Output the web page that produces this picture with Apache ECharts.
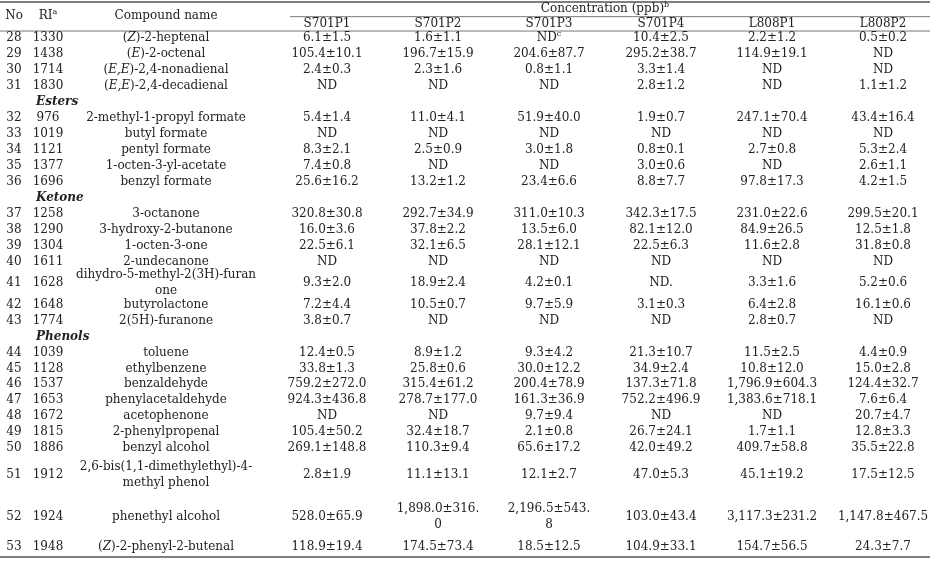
<!DOCTYPE html>
<html>
<head>
<meta charset="utf-8">
<script src="https://cdn.jsdelivr.net/npm/echarts@6/dist/echarts.min.js"></script>
<style>
html, body { margin: 0; padding: 0; background: #fff; }
#chart { width: 930px; height: 564px; }
</style>
</head>
<body>
<div id="chart"></div>
<script>
// table data
var nos = [28, 29, 30, 31, 32, 33, 34, 35, 36, 37, 38, 39, 40, 41, 42, 43, 44, 45, 46, 47, 48, 49, 50, 51, 52, 53];
var ris = ['1330', '1438', '1714', '1830', '976', '1019', '1121', '1377', '1696', '1258', '1290', '1304', '1611',
    '1628', '1648', '1774', '1039', '1128', '1537', '1653', '1672', '1815', '1886', '1912', '1924', '1948'];
var names = ['({i|Z})-2-heptenal', '({i|E})-2-octenal', '({i|E,E})-2,4-nonadienal', '({i|E,E})-2,4-decadienal',
    '2-methyl-1-propyl formate', 'butyl formate', 'pentyl formate', '1-octen-3-yl-acetate', 'benzyl formate',
    '3-octanone', '3-hydroxy-2-butanone', '1-octen-3-one', '2-undecanone', 'dihydro-5-methyl-2(3H)-furan\none',
    'butyrolactone', '2(5H)-furanone', 'toluene', 'ethylbenzene', 'benzaldehyde', 'phenylacetaldehyde',
    'acetophenone', '2-phenylpropenal', 'benzyl alcohol', '2,6-bis(1,1-dimethylethyl)-4-\nmethyl phenol',
    'phenethyl alcohol', '({i|Z})-2-phenyl-2-butenal'];
var sectionNames = ['Esters', 'Ketone', 'Phenols'];
var sectionBefore = [32, 37, 44];
var sampleNames = ['S701P1', 'S701P2', 'S701P3', 'S701P4', 'L808P1', 'L808P2'];

var s701p1 = ['6.1±1.5', '105.4±10.1', '2.4±0.3', 'ND', '5.4±1.4', 'ND', '8.3±2.1', '7.4±0.8', '25.6±16.2',
    '320.8±30.8', '16.0±3.6', '22.5±6.1', 'ND', '9.3±2.0', '7.2±4.4', '3.8±0.7', '12.4±0.5', '33.8±1.3',
    '759.2±272.0', '924.3±436.8', 'ND', '105.4±50.2', '269.1±148.8', '2.8±1.9', '528.0±65.9', '118.9±19.4'];
var s701p2 = ['1.6±1.1', '196.7±15.9', '2.3±1.6', 'ND', '11.0±4.1', 'ND', '2.5±0.9', 'ND', '13.2±1.2',
    '292.7±34.9', '37.8±2.2', '32.1±6.5', 'ND', '18.9±2.4', '10.5±0.7', 'ND', '8.9±1.2', '25.8±0.6',
    '315.4±61.2', '278.7±177.0', 'ND', '32.4±18.7', '110.3±9.4', '11.1±13.1', '1,898.0±316.\n0', '174.5±73.4'];
var s701p3 = ['ND{sup|c}', '204.6±87.7', '0.8±1.1', 'ND', '51.9±40.0', 'ND', '3.0±1.8', 'ND', '23.4±6.6',
    '311.0±10.3', '13.5±6.0', '28.1±12.1', 'ND', '4.2±0.1', '9.7±5.9', 'ND', '9.3±4.2', '30.0±12.2',
    '200.4±78.9', '161.3±36.9', '9.7±9.4', '2.1±0.8', '65.6±17.2', '12.1±2.7', '2,196.5±543.\n8', '18.5±12.5'];
var s701p4 = ['10.4±2.5', '295.2±38.7', '3.3±1.4', '2.8±1.2', '1.9±0.7', 'ND', '0.8±0.1', '3.0±0.6', '8.8±7.7',
    '342.3±17.5', '82.1±12.0', '22.5±6.3', 'ND', 'ND.', '3.1±0.3', 'ND', '21.3±10.7', '34.9±2.4',
    '137.3±71.8', '752.2±496.9', 'ND', '26.7±24.1', '42.0±49.2', '47.0±5.3', '103.0±43.4', '104.9±33.1'];
var l808p1 = ['2.2±1.2', '114.9±19.1', 'ND', 'ND', '247.1±70.4', 'ND', '2.7±0.8', 'ND', '97.8±17.3',
    '231.0±22.6', '84.9±26.5', '11.6±2.8', 'ND', '3.3±1.6', '6.4±2.8', '2.8±0.7', '11.5±2.5', '10.8±12.0',
    '1,796.9±604.3', '1,383.6±718.1', 'ND', '1.7±1.1', '409.7±58.8', '45.1±19.2', '3,117.3±231.2', '154.7±56.5'];
var l808p2 = ['0.5±0.2', 'ND', 'ND', '1.1±1.2', '43.4±16.4', 'ND', '5.3±2.4', '2.6±1.1', '4.2±1.5',
    '299.5±20.1', '12.5±1.8', '31.8±0.8', 'ND', '5.2±0.6', '16.1±0.6', 'ND', '4.4±0.9', '15.0±2.8',
    '124.4±32.7', '7.6±6.4', '20.7±4.7', '12.8±3.3', '35.5±22.8', '17.5±12.5', '1,147.8±467.5', '24.3±7.7'];
var concCols = [s701p1, s701p2, s701p3, s701p4, l808p1, l808p2];

// layout (row units on the y axis, pixels on the x axis)
var FONT = '"DejaVu Serif", "Liberation Serif", serif';
var colX = { no: 14, ri: 48, name: 166, section: 36, conc: [327, 438, 549, 661, 772, 883], concHead: 605 };
var tallRows = { 41: 1.7, 51: 2.4, 52: 2.8 };
var head = { conc: 0.44, line: 0.92, mid: 0.9, sample: 1.38, rule: 1.82 };
var textShift = -0.06;

var cells = [];
cells.push({ x: colX.concHead, y: head.conc, text: 'Concentration (ppb){sup|b}' });
cells.push({ x: colX.no, y: head.mid, text: 'No' });
cells.push({ x: colX.ri, y: head.mid, text: 'RI{sup|a}' });
cells.push({ x: colX.name, y: head.mid, text: 'Compound name' });
sampleNames.forEach(function (s, i) {
    cells.push({ x: colX.conc[i], y: head.sample, text: s });
});

var cursor = head.rule;
nos.forEach(function (no, i) {
    var s = sectionBefore.indexOf(no);
    if (s >= 0) {
        cells.push({ x: colX.section, y: cursor + 0.5 + textShift, text: sectionNames[s], kind: 'section' });
        cursor += 1;
    }
    var h = tallRows[no] || 1;
    var yc = cursor + h / 2 + textShift;
    cells.push({ x: colX.no, y: yc, text: String(no) });
    cells.push({ x: colX.ri, y: yc, text: ris[i] });
    cells.push({ x: colX.name, y: yc, text: names[i] });
    concCols.forEach(function (col, j) {
        cells.push({ x: colX.conc[j], y: yc, text: col[i] });
    });
    cursor += h;
});
var bottomRule = cursor + 0.06;

var rules = [
    [0, 930, 0, 1.5],
    [290, 930, head.line, 0.8],
    [0, 930, head.rule, 0.8],
    [0, 930, bottomRule, 1.5]
];

var rich = {
    i: { fontStyle: 'italic', fontFamily: FONT, fontSize: 12, lineHeight: 16, fill: '#222' },
    sup: { fontSize: 8, lineHeight: 8, verticalAlign: 'top', fontFamily: FONT, fill: '#222' }
};

var chart = echarts.init(document.getElementById('chart'));
var option = {
    animation: false,
    grid: { left: 0, right: 0, top: 2, bottom: 7 },
    xAxis: { type: 'value', min: 0, max: 930, show: false },
    yAxis: { type: 'value', inverse: true, min: 0, max: bottomRule, show: false },
    series: [
        {
            type: 'custom',
            clip: false,
            encode: { x: [0, 1], y: 2 },
            data: rules,
            renderItem: function (params, api) {
                var a = api.coord([api.value(0), api.value(2)]);
                var b = api.coord([api.value(1), api.value(2)]);
                return {
                    type: 'line',
                    shape: { x1: a[0], y1: a[1], x2: b[0], y2: b[1] },
                    style: { stroke: '#555', lineWidth: api.value(3) }
                };
            }
        },
        {
            type: 'custom',
            clip: false,
            data: cells.map(function (c) { return [c.x, c.y]; }),
            renderItem: function (params, api) {
                var c = cells[params.dataIndex];
                var p = api.coord([api.value(0), api.value(1)]);
                var sec = c.kind === 'section';
                return {
                    type: 'text',
                    x: p[0],
                    y: p[1],
                    style: {
                        text: c.text,
                        fill: '#222',
                        fontFamily: FONT,
                        fontSize: 12,
                        fontWeight: sec ? 'bold' : 'normal',
                        fontStyle: sec ? 'italic' : 'normal',
                        align: sec ? 'left' : 'center',
                        verticalAlign: 'middle',
                        lineHeight: 16,
                        rich: rich
                    }
                };
            }
        }
    ]
};
chart.setOption(option);
</script>
</body>
</html>
